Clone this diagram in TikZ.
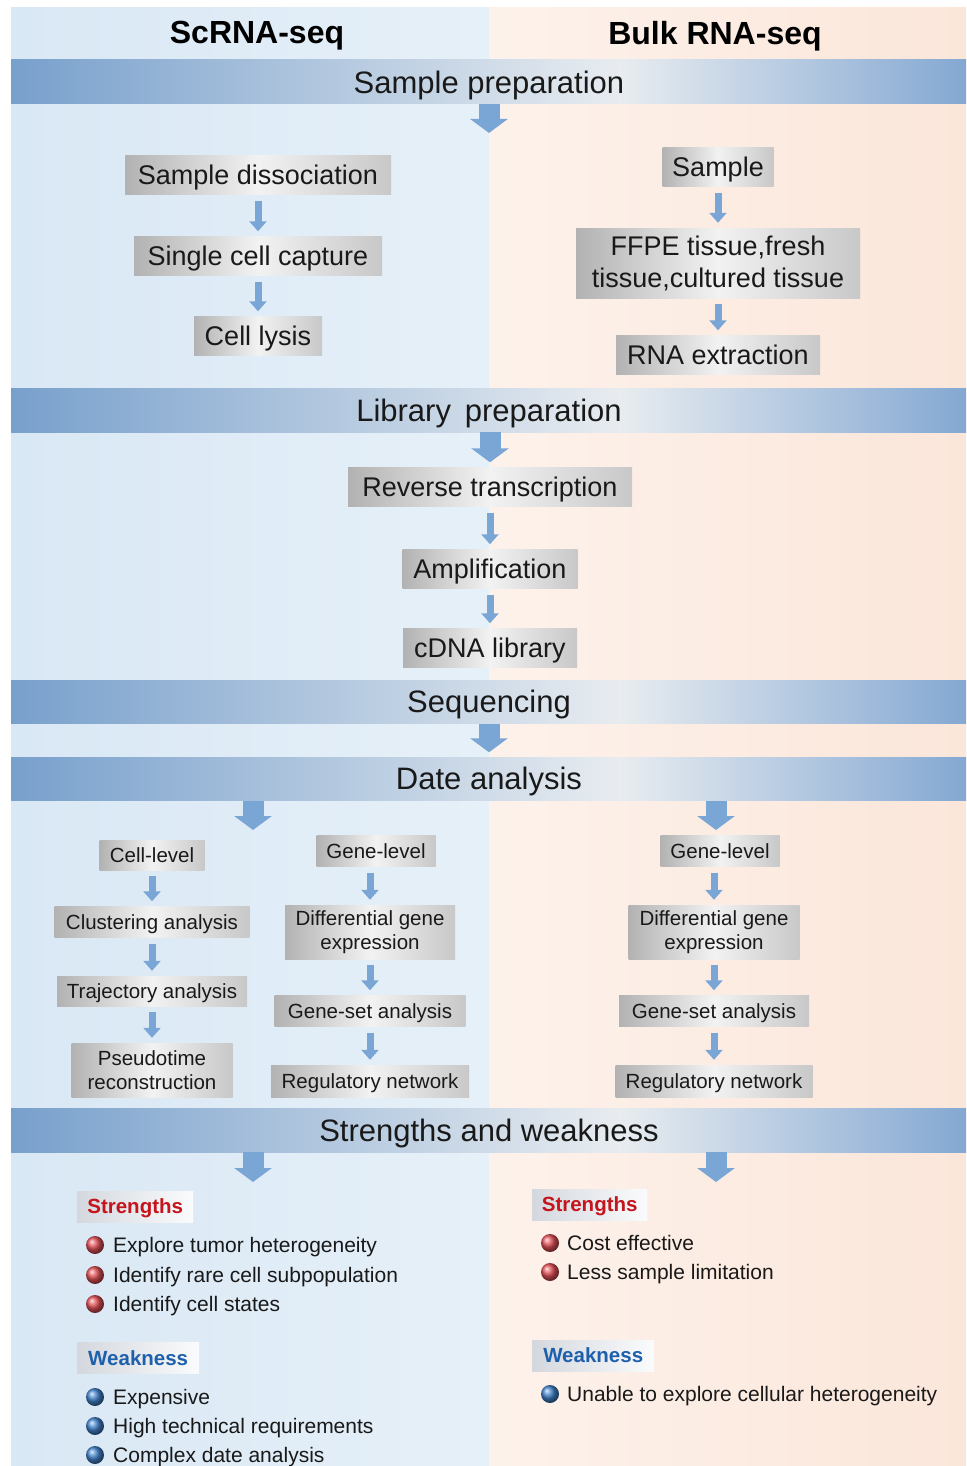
\documentclass[tikz,border=0pt]{standalone}
\usepackage{fontspec}
\setmainfont{Liberation Sans}
\usetikzlibrary{arrows.meta}
\definecolor{bgLa}{RGB}{217,232,245}
\definecolor{bgLb}{RGB}{230,240,248}
\definecolor{bgRa}{RGB}{253,242,235}
\definecolor{bgRb}{RGB}{251,230,218}
\definecolor{bandB}{RGB}{120,160,204}
\definecolor{bandW}{RGB}{232,236,240}
\definecolor{bandC}{RGB}{132,168,210}
\definecolor{arrc}{RGB}{122,166,214}
\definecolor{gL}{RGB}{178,178,178}
\definecolor{gM}{RGB}{242,242,242}
\definecolor{gR}{RGB}{200,200,200}
\definecolor{lblL}{RGB}{212,216,222}
\definecolor{lblR}{RGB}{250,251,252}
\definecolor{sred}{RGB}{196,20,28}
\definecolor{sblue}{RGB}{30,96,172}
\definecolor{bred}{RGB}{226,80,86}
\definecolor{bblue}{RGB}{66,130,204}
\definecolor{txt}{RGB}{25,25,25}
\newcommand\FTitle{\fontsize{32}{36}\selectfont\bfseries}
\newcommand\FBand{\fontsize{31}{34}\selectfont}
\newcommand\FBig{\fontsize{27}{31}\selectfont}
\newcommand\FSmall{\fontsize{20.5}{23.5}\selectfont}
\newcommand\FList{\fontsize{21}{24}\selectfont}
\newcommand\FLbl{\fontsize{20.5}{23}\selectfont\bfseries}
\newcommand\mybandbg[2]{%
  \shade[left color=bandB, right color=bandW] (11,#1) rectangle (620,#2);
  \shade[left color=bandW, right color=bandC] (620,#1) rectangle (966,#2);}
\tikzset{
  capc/.style={text height=#1, text depth=0pt},
  band/.style={minimum width=955pt, minimum height=44pt, inner sep=0pt, font=\FBand, text=txt, capc=22.2pt},
  gbase/.style={left color=gL, right color=gR, middle color=gM, inner xsep=3pt, inner ysep=2pt,
    text=txt, align=center},
  gbox/.style={gbase, minimum height=39pt, font=\FBig, capc=19.3pt},
  gboxtwo/.style={gbase, font=\FBig},
  sbox/.style={gbase, minimum height=31pt, font=\FSmall, capc=14.7pt},
  sboxtwo/.style={gbase, font=\FSmall},
  lbl/.style={left color=lblL, right color=lblR, minimum height=31pt, anchor=west, inner xsep=3pt, font=\FLbl, capc=14.7pt},
  item/.style={anchor=base west, font=\FList, text=txt, inner sep=0pt},
  bulr/.style={ball color=bred},
  bulb/.style={ball color=bblue},
  sarr/.style={draw=arrc, line width=7pt, -{Triangle[width=17pt,length=10pt]}, shorten <=6pt, shorten >=5pt},
  barr/.style={draw=arrc, line width=21pt, -{Triangle[width=37pt,length=14pt]}},
}
\begin{document}
\begin{tikzpicture}[x=1pt,y=-1pt]
\useasboundingbox (0,0) rectangle (966,1466);
\fill[white] (0,0) rectangle (966,1466);
\shade[left color=bgLa, right color=bgLb] (11,8) rectangle (489,1466);
\shade[left color=bgRa, right color=bgRb] (489,8) rectangle (966,1466);

% titles
\node[font=\FTitle, capc=22.9pt] (t1) at (257,32) {ScRNA-seq};
\node[font=\FTitle, capc=22.9pt] (t2) at (715,33) {Bulk RNA-seq};

% bands
\mybandbg{60}{104}
\node[band] (sp) at (489,82) {Sample preparation};
\mybandbg{388}{432}
\node[band] (lp) at (489,410) {Library\, preparation};
\mybandbg{680}{723}
\node[band] (sq) at (489,701.5) {Sequencing};
\mybandbg{757}{800}
\node[band] (da) at (489,778.5) {Date analysis};
\mybandbg{1108}{1152}
\node[band] (sw) at (489,1130) {Strengths and weakness};

% sample preparation
\coordinate (spE) at (489,133);
\draw[barr] (sp.south -| spE) -- (spE);
\node[gbox, minimum width=266pt] (sd) at (258,175) {Sample dissociation};
\node[gbox, minimum width=248pt] (scc) at (258,256) {Single cell capture};
\node[gbox, minimum width=128pt] (cl) at (258,336) {Cell lysis};
\draw[sarr] (sd) -- (scc);
\draw[sarr] (scc) -- (cl);
\node[gbox, minimum width=111pt] (smp) at (718,167) {Sample};
\node[gboxtwo, minimum width=284pt, minimum height=70pt] (ffpe) at (718,263) {FFPE tissue,fresh\\[1pt]tissue,cultured tissue};
\node[gbox, minimum width=204pt] (rna) at (718,355) {RNA extraction};
\draw[sarr] (smp) -- (ffpe);
\draw[sarr] (ffpe) -- (rna);

% library preparation
\node[gbox, minimum width=284pt] (rt) at (490,487) {Reverse transcription};
\node[gbox, minimum width=175pt] (amp) at (490,569) {Amplification};
\node[gbox, minimum width=174pt] (cdna) at (490,648) {cDNA library};
\draw[barr, shorten >=5pt] (lp.south -| rt.north) -- (rt.north);
\draw[sarr] (rt) -- (amp);
\draw[sarr] (amp) -- (cdna);

% sequencing
\draw[barr, shorten >=4pt] (sq.south) -- (da.north);

% data analysis
\coordinate (daL) at (253,830);
\coordinate (daR) at (716,830);
\draw[barr] (da.south -| daL) -- (daL);
\draw[barr] (da.south -| daR) -- (daR);

\node[sbox, minimum width=105pt, minimum height=30pt] (cell) at (152,855) {Cell-level};
\node[sbox, minimum width=195pt] (clu) at (152,922) {Clustering analysis};
\node[sbox, minimum width=190pt, minimum height=30pt] (tra) at (152,991) {Trajectory analysis};
\node[sboxtwo, minimum width=161pt, minimum height=54pt] (pse) at (152,1070) {Pseudotime\\reconstruction};
\draw[sarr] (cell.south -| clu.north) -- (clu.north);
\draw[sarr] (clu.south -| tra.north) -- (tra.north);
\draw[sarr] (tra.south -| pse.north) -- (pse.north);

\node[sbox, minimum width=119pt] (gl1) at (376,851) {Gene-level};
\node[sboxtwo, minimum width=170pt, minimum height=54pt] (dg1) at (370,932) {Differential gene\\expression};
\node[sbox, minimum width=191pt] (gs1) at (370,1011) {Gene-set analysis};
\node[sbox, minimum width=198pt, minimum height=32pt] (rn1) at (370,1081) {Regulatory network};
\draw[sarr] (gl1.south -| dg1.north) -- (dg1.north);
\draw[sarr] (dg1.south -| gs1.north) -- (gs1.north);
\draw[sarr] (gs1.south -| rn1.north) -- (rn1.north);

\node[sbox, minimum width=119pt] (gl2) at (720,851) {Gene-level};
\node[sboxtwo, minimum width=171pt, minimum height=54pt] (dg2) at (714,932) {Differential gene\\expression};
\node[sbox, minimum width=190pt] (gs2) at (714,1011) {Gene-set analysis};
\node[sbox, minimum width=197pt, minimum height=32pt] (rn2) at (714,1081) {Regulatory network};
\draw[sarr] (gl2.south -| dg2.north) -- (dg2.north);
\draw[sarr] (dg2.south -| gs2.north) -- (gs2.north);
\draw[sarr] (gs2.south -| rn2.north) -- (rn2.north);

% strengths and weakness
\coordinate (swL) at (253,1182);
\coordinate (swR) at (716,1182);
\draw[barr] (sw.south -| swL) -- (swL);
\draw[barr] (sw.south -| swR) -- (swR);

\node[lbl, minimum width=116pt, text=sred] (s1) at (77,1206.5) {Strengths};
\shade[bulr] (95,1245) circle[radius=9pt];
\shade[bulr] (95,1275) circle[radius=9pt];
\shade[bulr] (95,1304) circle[radius=9pt];
\node[item] (s1a) at (113,1252.5) {Explore tumor heterogeneity};
\node[item] (s1b) at (113,1282.5) {Identify rare cell subpopulation};
\node[item] (s1c) at (113,1311.5) {Identify cell states};

\node[lbl, minimum width=122pt, text=sblue] (w1) at (77,1358) {Weakness};
\shade[bulb] (95,1397) circle[radius=9pt];
\shade[bulb] (95,1426) circle[radius=9pt];
\shade[bulb] (95,1455) circle[radius=9pt];
\node[item] (w1a) at (113,1404.5) {Expensive};
\node[item] (w1b) at (113,1433.5) {High technical requirements};
\node[item] (w1c) at (113,1462.5) {Complex date analysis};

\node[lbl, minimum width=115pt, text=sred] (s2) at (532,1204.5) {Strengths};
\shade[bulr] (550,1243) circle[radius=9pt];
\shade[bulr] (550,1272) circle[radius=9pt];
\node[item] (s2a) at (567,1250.5) {Cost effective};
\node[item] (s2b) at (567,1279.5) {Less sample limitation};

\node[lbl, minimum width=122pt, text=sblue] (w2) at (532,1355.5) {Weakness};
\shade[bulb] (550,1394) circle[radius=9pt];
\node[item] (w2a) at (567,1401.5) {Unable to explore cellular heterogeneity};
\end{tikzpicture}
\end{document}
